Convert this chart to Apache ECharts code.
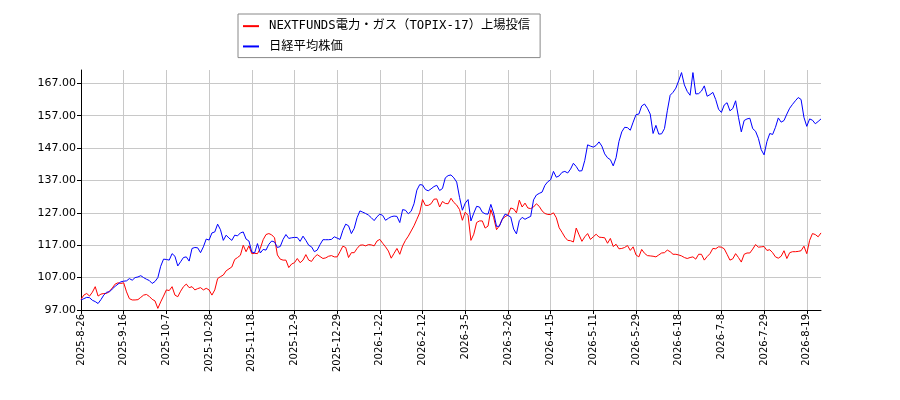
<!DOCTYPE html>
<html>
<head>
<meta charset="utf-8">
<title>NEXTFUNDS電力・ガス（TOPIX-17）上場投信 と 日経平均株価</title>
<script src="https://cdn.jsdelivr.net/npm/echarts@6/dist/echarts.min.js"></script>
<style>
    html, body { margin: 0; padding: 0; background: #fff; }
    #chart { width: 900px; height: 400px; }
</style>
</head>
<body>
<div id="chart"></div>
<script>
// 系列名
const seriesNames = ['NEXTFUNDS電力・ガス（TOPIX-17）上場投信', '日経平均株価'];

// x軸の目盛り（15本ごと）と最後の数日
const tickLabels = ['2025-8-26', '2025-9-16', '2025-10-7', '2025-10-28', '2025-11-18', '2025-12-9',
    '2025-12-29', '2026-1-22', '2026-2-12', '2026-3-5', '2026-3-26', '2026-4-15', '2026-5-11',
    '2026-5-29', '2026-6-18', '2026-7-8', '2026-7-29', '2026-8-19'];
const tailDates = ['2026-8-20', '2026-8-21', '2026-8-24', '2026-8-25', '2026-8-26'];

// y軸
const yMin = 97;
const yMax = 171.1;
const yStep = 10;

// NEXTFUNDS電力・ガス（起点=100）
const powerGas = [
    100.3, 101.6, 102.1, 101.3, 102.5, 104.2, 101.3, 101.9, 102.1, 102.1,
    102.8, 103.8, 105.0, 105.4, 105.2, 105.4, 102.6, 100.5, 100.1, 100.1,
    100.2, 100.9, 101.6, 101.8, 101.2, 100.3, 99.8, 97.5, 99.5, 101.3,
    103.2, 103.0, 104.2, 101.6, 101.1, 102.8, 104.2, 105.0, 103.9, 104.2,
    103.2, 103.6, 103.9, 103.2, 103.7, 103.2, 101.6, 103.2, 106.7, 107.3,
    107.8, 109.1, 109.7, 110.3, 112.6, 113.2, 113.9, 117.0, 115.0, 116.8,
    114.4, 114.5, 114.4, 116.0, 118.7, 120.3, 120.6, 120.2, 119.3, 114.0,
    112.7, 112.4, 112.4, 110.1, 111.2, 111.6, 112.9, 111.6, 112.4, 114.1,
    112.4, 112.0, 113.3, 114.1, 113.5, 112.9, 113.1, 113.6, 113.8, 113.4,
    113.4, 115.0, 116.7, 116.3, 113.2, 114.7, 114.7, 116.0, 117.0, 117.1,
    116.8, 117.2, 117.1, 116.8, 118.3, 118.8, 117.6, 116.5, 115.2, 113.0,
    114.5, 116.0, 114.2, 116.8, 118.5, 119.8, 121.4, 123.0, 125.0, 127.0,
    131.1, 129.3, 129.3, 129.8, 131.2, 131.3, 128.8, 130.5, 129.9, 129.8,
    131.5, 130.2, 129.4, 128.0, 124.7, 127.2, 126.2, 118.5, 120.4, 124.0,
    124.5, 124.5, 122.3, 122.9, 128.0, 125.5, 121.8, 123.0, 125.0, 125.8,
    126.3, 128.5, 128.2, 127.0, 130.9, 128.8, 130.0, 128.5, 128.3, 128.8,
    129.8, 129.0, 127.6, 126.8, 126.5, 126.5, 127.0, 125.5, 122.4, 121.0,
    119.5, 118.5, 118.4, 118.0, 122.3, 120.2, 118.2, 119.6, 120.6, 118.8,
    119.6, 120.4, 119.5, 119.4, 119.3, 117.6, 119.1, 116.6, 117.3, 115.9,
    116.0, 116.3, 116.9, 115.4, 116.5, 114.0, 113.4, 115.7, 114.5, 113.8,
    113.7, 113.6, 113.4, 114.0, 114.6, 114.7, 115.5, 115.0, 114.2, 114.2,
    114.0, 113.7, 113.2, 112.9, 113.2, 113.4, 112.7, 114.2, 114.2, 112.4,
    113.5, 114.4, 116.0, 115.9, 116.5, 116.4, 115.9, 114.2, 112.4, 112.8,
    114.4, 113.2, 111.8, 114.2, 114.6, 114.6, 115.8, 117.2, 116.4, 116.5,
    116.6, 115.4, 115.6, 114.7, 113.4, 113.0, 113.6, 115.3, 112.9, 114.7,
    115.0, 115.0, 115.1, 115.3, 116.7, 114.4, 118.5, 120.6, 120.3, 119.6,
    120.8
];

// 日経平均株価（起点=100）
const nikkei = [
    100.1, 100.5, 100.9, 100.8, 100.0, 99.6, 99.0, 100.2, 101.6, 102.5,
    102.6, 103.5, 104.3, 105.0, 105.7, 105.9, 106.0, 106.7, 106.2, 107.0,
    107.2, 107.6, 107.0, 106.5, 106.1, 105.2, 105.8, 107.0, 110.5, 112.7,
    112.6, 112.4, 114.4, 113.6, 110.6, 111.9, 113.2, 113.4, 112.1, 116.0,
    116.3, 116.2, 114.7, 116.5, 118.9, 118.6, 120.8, 121.1, 123.5, 121.8,
    118.5, 120.1, 119.2, 118.5, 120.1, 119.9, 120.8, 121.1, 118.9, 118.3,
    114.9, 114.6, 117.5, 114.6, 115.7, 115.5, 117.3, 118.3, 118.0, 116.3,
    116.6, 118.8, 120.3, 119.1, 119.3, 119.4, 119.4, 118.2, 119.8, 118.5,
    117.0, 116.5, 115.0, 115.5, 117.2, 118.7, 118.7, 118.7, 118.8, 119.6,
    119.2, 118.8, 121.6, 123.5, 123.0, 120.6, 122.2, 125.5, 127.6, 127.2,
    126.8, 126.3, 125.5, 124.6, 125.8, 126.6, 126.2, 124.7, 125.3, 125.8,
    126.0, 125.9, 124.0, 128.0, 127.8, 126.7, 127.5, 129.8, 134.0, 135.7,
    135.6, 134.2, 133.8, 134.4, 135.1, 135.5, 133.9, 134.5, 137.8, 138.5,
    138.7, 137.8, 136.5, 131.8, 127.8, 130.0, 131.1, 124.5, 126.9, 129.0,
    128.8, 127.2, 126.7, 126.6, 129.6, 126.9, 122.8, 122.9, 125.0, 126.6,
    126.2, 125.7, 122.0, 120.5, 124.6, 125.6, 125.0, 125.5, 125.9, 131.0,
    132.5, 133.0, 133.4, 135.5, 136.6, 137.2, 139.8, 138.0, 138.4, 139.5,
    139.8, 139.3, 140.5, 142.3, 141.3, 139.9, 140.0, 143.2, 148.0, 147.6,
    147.3, 147.8, 148.9, 147.6, 145.2, 144.0, 143.4, 141.5, 144.0, 149.0,
    152.0, 153.4, 153.3, 152.5, 155.0, 157.3, 157.5, 160.0, 160.6, 159.3,
    157.5, 151.5, 154.0, 151.3, 151.4, 153.0, 158.5, 163.3, 164.2, 165.5,
    167.8, 170.3, 166.5, 164.5, 163.3, 170.3, 163.7, 163.8, 164.6, 166.2,
    163.0, 163.5, 164.2, 162.0, 159.0, 158.0, 160.3, 161.0, 158.5, 159.2,
    161.6, 156.5, 152.0, 155.5, 156.0, 156.2, 153.0, 152.2, 150.0, 146.5,
    144.9, 149.0, 151.5, 151.2, 153.4, 156.3, 155.0, 155.5, 157.5, 159.3,
    160.5, 161.6, 162.6, 162.0, 156.5, 153.7, 156.0, 155.6, 154.5, 155.2,
    156.0
];

// 目盛りの間を15本ずつの日付で埋める
function parseDate(s) {
    const p = s.split('-').map(Number);
    return new Date(p[0], p[1] - 1, p[2]);
}
function fmtDate(d) {
    return d.getFullYear() + '-' + (d.getMonth() + 1) + '-' + d.getDate();
}
function buildDates() {
    const out = [];
    const day = 24 * 3600 * 1000;
    for (let i = 0; i < tickLabels.length - 1; i++) {
        const a = parseDate(tickLabels[i]);
        const b = parseDate(tickLabels[i + 1]);
        const span = Math.round((b - a) / day);
        for (let k = 0; k < 15; k++) {
            out.push(fmtDate(new Date(a.getTime() + Math.round(k * span / 15) * day)));
        }
    }
    out.push(tickLabels[tickLabels.length - 1]);
    return out.concat(tailDates);
}
const dates = buildDates();

const chart = echarts.init(document.getElementById('chart'), null, {renderer: 'canvas'});

const option = {
    animation: false,
    backgroundColor: '#ffffff',
    legend: {
        orient: 'vertical',
        left: 238,
        top: 14,
        padding: [6, 10, 5, 5],
        itemGap: 8,
        itemWidth: 16,
        itemHeight: 2,
        icon: 'rect',
        backgroundColor: '#ffffff',
        borderColor: '#888888',
        borderWidth: 1,
        borderRadius: 0,
        textStyle: {
            fontFamily: "'DejaVu Sans Mono', 'Noto Sans CJK JP'",
            fontSize: 12.3,
            color: '#000',
            padding: [0, 0, 0, 5]
        },
        data: seriesNames
    },
    grid: {
        left: 81,
        right: 79,
        top: 70,
        bottom: 90
    },
    xAxis: {
        type: 'category',
        data: dates,
        boundaryGap: false,
        axisLine: {lineStyle: {color: '#000', width: 1}},
        axisTick: {interval: 14, length: 4, lineStyle: {color: '#000'}},
        axisLabel: {
            interval: 14,
            rotate: 90,
            margin: 4,
            fontFamily: 'DejaVu Sans',
            fontSize: 10,
            color: '#000'
        },
        splitLine: {show: true, interval: 14, lineStyle: {color: '#c8c8c8', width: 1}}
    },
    yAxis: {
        type: 'value',
        min: yMin,
        max: yMax,
        interval: yStep,
        axisLine: {show: true, lineStyle: {color: '#000', width: 1}},
        axisTick: {show: true, length: 4, lineStyle: {color: '#000'}},
        axisLabel: {
            showMaxLabel: false,
            margin: 5,
            fontFamily: 'DejaVu Sans',
            fontSize: 11,
            color: '#000',
            formatter: (v) => v.toFixed(2)
        },
        splitLine: {show: true, showMaxLine: false, lineStyle: {color: '#c8c8c8', width: 1}}
    },
    series: [
        {
            name: seriesNames[0],
            type: 'line',
            data: powerGas,
            showSymbol: false,
            symbol: 'none',
            color: '#ff0000',
            lineStyle: {color: '#ff0000', width: 1}
        },
        {
            name: seriesNames[1],
            type: 'line',
            data: nikkei,
            showSymbol: false,
            symbol: 'none',
            color: '#0000ff',
            lineStyle: {color: '#0000ff', width: 1}
        }
    ]
};

chart.setOption(option);
</script>
</body>
</html>
